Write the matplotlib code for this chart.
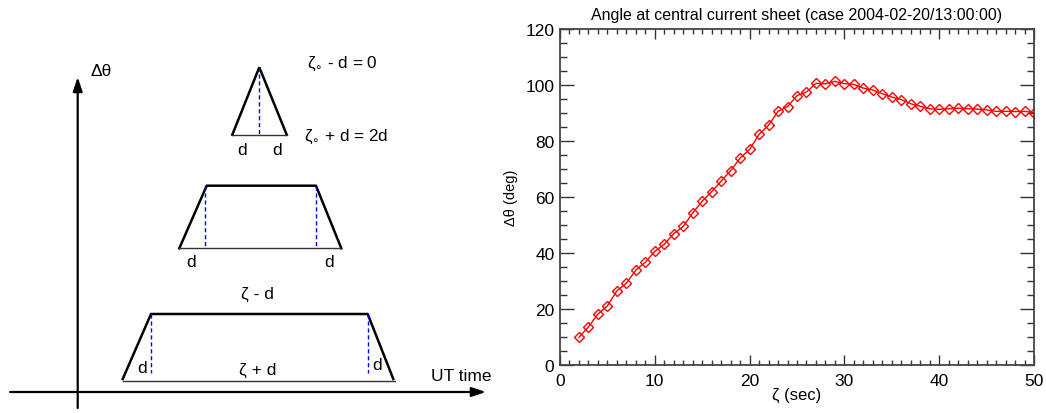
import matplotlib
matplotlib.use('Agg')
import matplotlib.pyplot as plt
from matplotlib.ticker import MultipleLocator

plt.rcParams['font.family'] = ['Liberation Sans', 'DejaVu Sans']

# ---- data (right panel) ----
zeta = list(range(2, 51))
dtheta = [9.9, 13.6, 18.2, 21.1, 26.5, 29.2, 33.9, 36.7, 40.6, 43.1, 46.9, 49.5,
          54.3, 58.5, 61.9, 65.7, 69.4, 73.9, 77.0, 82.4, 85.6, 90.6, 92.3, 96.2,
          97.5, 100.6, 100.4, 101.3, 100.5, 100.2, 98.9, 98.2, 96.9, 95.7, 94.8,
          93.3, 92.4, 91.5, 91.3, 91.5, 91.7, 91.5, 91.4, 91.1, 90.6, 90.6, 90.5,
          90.6, 90.1]
title = 'Angle at central current sheet (case 2004-02-20/13:00:00)'
xlabel = 'ζ (sec)'
ylabel = 'Δθ (deg)'

# ---- schematic diagram (left panel), in pixel units of the panel ----
tri_x = [232.3, 259.3, 286.7]
tri_y = [135.7, 68.3, 135.7]
trap2_x = [179.3, 206.7, 316.0, 341.3]
trap2_y = [249.3, 186.7, 186.7, 249.3]
trap3_x = [122.7, 151.0, 367.7, 393.3]
trap3_y = [380.0, 315.0, 315.0, 380.0]

fig = plt.figure(figsize=(10.46, 4.14), dpi=100)

# ---------------- left schematic ----------------
ax0 = fig.add_axes([0, 0, 540 / 1046, 1])
ax0.set_xlim(0, 540)
ax0.set_ylim(414, 0)
ax0.axis('off')

# coordinate axes
ax0.annotate('', xy=(77.7, 78), xytext=(77.7, 409),
             arrowprops=dict(arrowstyle='-|>,head_length=0.6,head_width=0.2',
                             lw=1.6, color='black',
                             mutation_scale=14, shrinkA=0, shrinkB=0))
ax0.annotate('', xy=(486, 393), xytext=(10, 393),
             arrowprops=dict(arrowstyle='-|>,head_length=0.6,head_width=0.2',
                             lw=1.6, color='black',
                             mutation_scale=14, shrinkA=0, shrinkB=0))
ax0.text(101, 71, 'Δθ', fontsize=12.5, ha='center', va='center')
ax0.text(461, 377, 'UT time', fontsize=12.5, ha='center', va='center')

# triangle
ax0.plot(tri_x, tri_y, color='black', lw=1.8, solid_joinstyle='miter')
ax0.plot([tri_x[0], tri_x[2]], [tri_y[0], tri_y[2]], color='#333333', lw=1.0)
ax0.plot([tri_x[1], tri_x[1]], [tri_y[1], tri_y[0]], color='blue', lw=1.0,
         dashes=(3, 2))
ax0.text(241.7, 151, 'd', fontsize=12.5, ha='center', va='center')
ax0.text(276.7, 151, 'd', fontsize=12.5, ha='center', va='center')
ax0.text(307, 64, 'ζ$_{\\circ}$ - d = 0', fontsize=12.3, ha='left', va='center')
ax0.text(304, 137, 'ζ$_{\\circ}$ + d = 2d', fontsize=12.3, ha='left', va='center')

# trapezoid 2
ax0.plot(trap2_x, trap2_y, color='black', lw=1.8)
ax0.plot([trap2_x[0], trap2_x[3]], [trap2_y[0], trap2_y[3]], color='#333333', lw=1.0)
for xx in (trap2_x[1] - 1.4, trap2_x[2] + 0.3):
    ax0.plot([xx, xx], [trap2_y[1], trap2_y[0]], color='blue', lw=1.0, dashes=(3, 2))
ax0.text(191, 263, 'd', fontsize=12.5, ha='center', va='center')
ax0.text(329, 263, 'd', fontsize=12.5, ha='center', va='center')

# trapezoid 3
ax0.plot(trap3_x, trap3_y, color='black', lw=1.8)
ax0.plot([trap3_x[0], trap3_x[3] + 1.5], [trap3_y[0] + 2, trap3_y[3] + 2],
         color='#333333', lw=1.0)
for xx in (trap3_x[1] + 0.3, trap3_x[2] + 0.6):
    ax0.plot([xx, xx], [trap3_y[1], 374], color='blue', lw=1.0, dashes=(3, 2))
ax0.text(257.7, 294, 'ζ - d', fontsize=12.5, ha='center', va='center')
ax0.text(257.7, 370, 'ζ + d', fontsize=12.5, ha='center', va='center')
ax0.text(141.7, 369, 'd', fontsize=12.5, ha='center', va='center')
ax0.text(376.7, 366, 'd', fontsize=12.5, ha='center', va='center')

# ---------------- right data plot ----------------
ax = fig.add_axes([560 / 1046, 48 / 414, 474 / 1046, 336 / 414])
ax.plot(zeta, dtheta, color='red', lw=1.0, marker='D', markersize=5.0,
        markerfacecolor='none', markeredgecolor='red', markeredgewidth=1.0)
ax.set_xlim(0, 50)
ax.set_ylim(0, 120)
ax.xaxis.set_major_locator(MultipleLocator(10))
ax.xaxis.set_minor_locator(MultipleLocator(1))
ax.yaxis.set_major_locator(MultipleLocator(20))
ax.yaxis.set_minor_locator(MultipleLocator(5))
ax.tick_params(which='both', direction='in', top=True, right=True,
               colors='#333333', labelcolor='black', labelsize=12.5)
ax.tick_params(axis='x', which='major', length=7, width=1.0, pad=6)
ax.tick_params(axis='x', which='minor', length=3.5, width=1.0)
ax.tick_params(axis='y', which='major', length=10, width=1.0, pad=4)
ax.tick_params(axis='y', which='minor', length=5, width=1.0)
for s in ax.spines.values():
    s.set_color('#444444')
    s.set_linewidth(1.3)
ax.set_title(title, fontsize=11.5, pad=7)
ax.set_xlabel(xlabel, fontsize=12, labelpad=-1)
ax.set_ylabel(ylabel, fontsize=10.5, labelpad=5)

fig.savefig('out.png', dpi=100)
